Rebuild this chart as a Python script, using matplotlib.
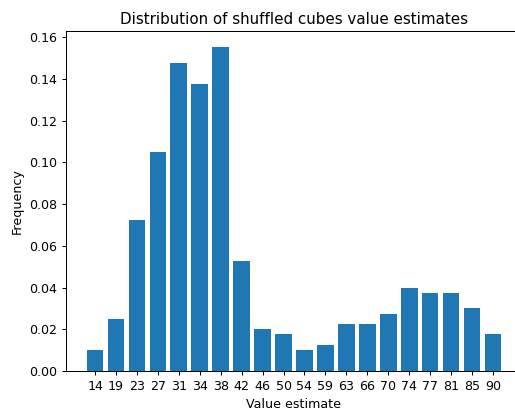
import matplotlib
matplotlib.use("Agg")
import matplotlib.pyplot as plt

categories = ["14", "19", "23", "27", "31", "34", "38", "42", "46", "50",
              "54", "59", "63", "66", "70", "74", "77", "81", "85", "90"]
frequencies = [0.0100, 0.0250, 0.0725, 0.1050, 0.1475, 0.1375, 0.1550, 0.0525,
               0.0200, 0.0175, 0.0100, 0.0125, 0.0225, 0.0225, 0.0275, 0.0400,
               0.0375, 0.0375, 0.0300, 0.0175]

DPI = 91
fig = plt.figure(figsize=(515 / DPI, 411 / DPI), dpi=DPI)
ax = fig.add_axes([66 / 515, 1 - 371 / 411, (522 - 66) / 515, (371 - 31.3) / 411])
ax.bar(range(len(categories)), frequencies, color="#1f77b4")
ax.set_xticks(range(len(categories)))
ax.set_xticklabels(categories)
ax.set_title("Distribution of shuffled cubes value estimates")
ax.set_xlabel("Value estimate")
ax.set_ylabel("Frequency")
fig.savefig("out.png", dpi=DPI)
